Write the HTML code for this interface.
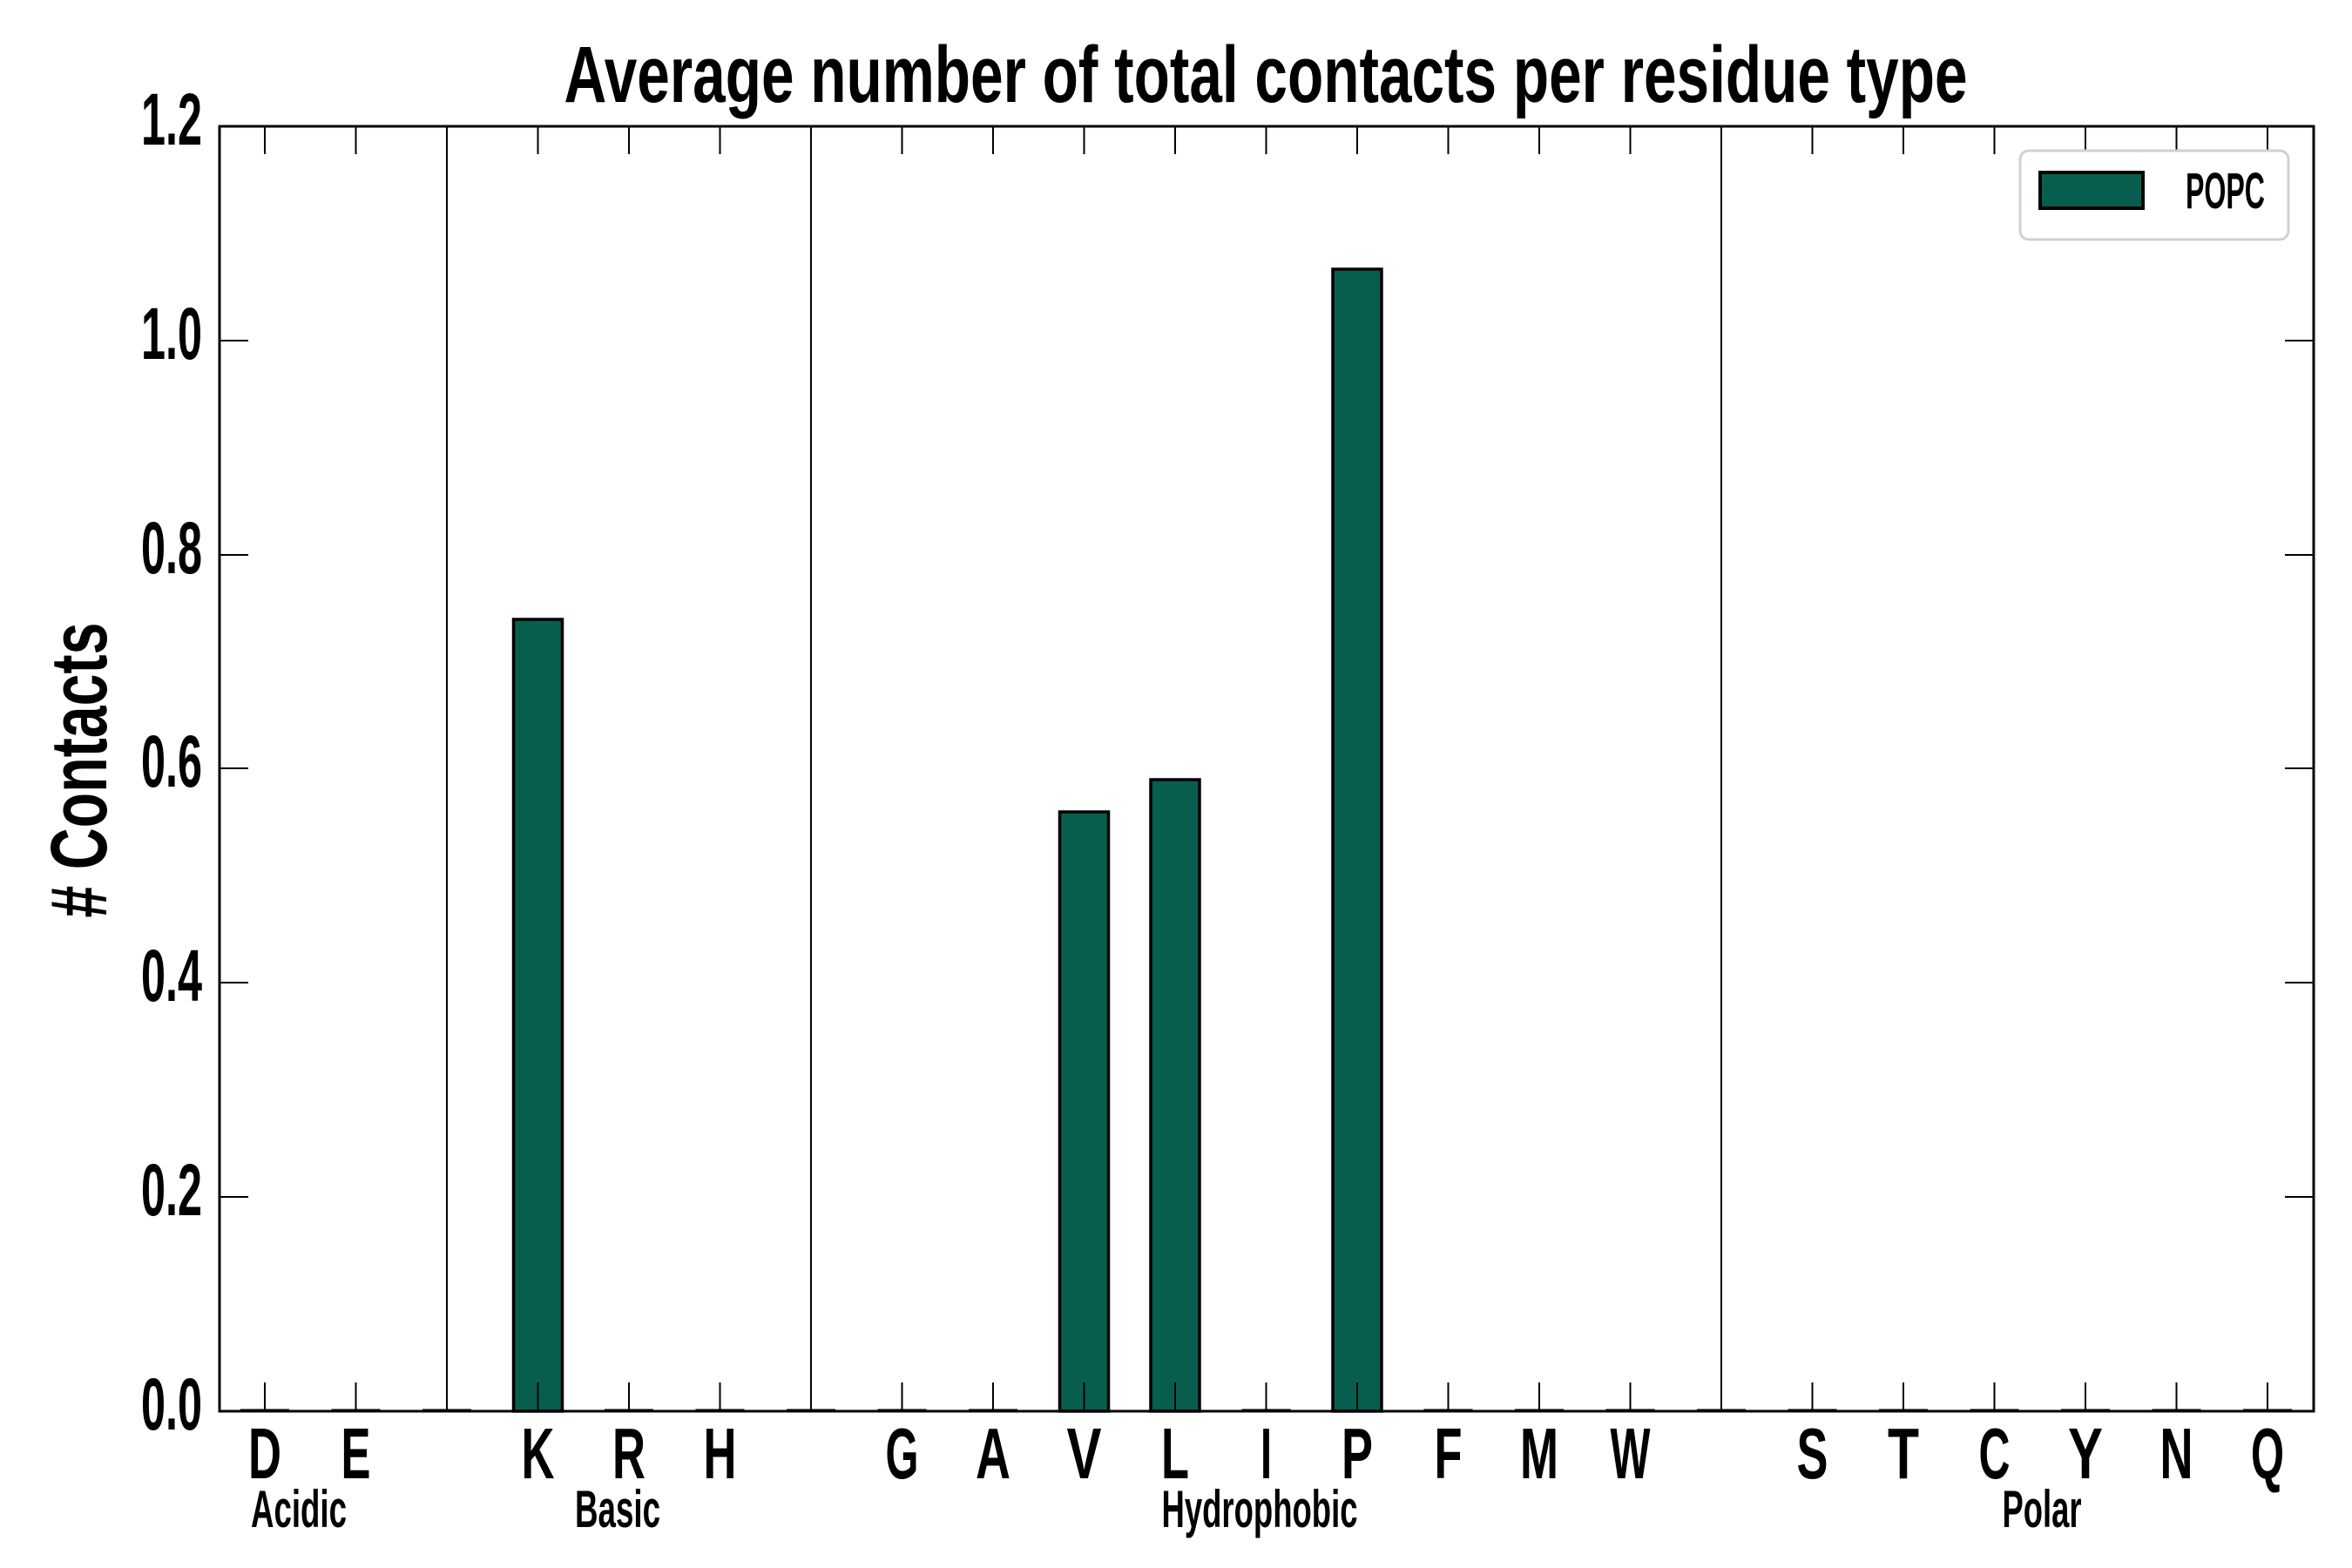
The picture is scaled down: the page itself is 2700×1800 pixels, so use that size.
<!DOCTYPE html>
<html><head><meta charset="utf-8"><style>
html,body{margin:0;padding:0;background:#fff;}
svg{display:block;}
text{font-family:"Liberation Sans Narrow","Liberation Sans",sans-serif;font-weight:bold;fill:#000;}
</style></head><body>
<svg width="2700" height="1800" viewBox="0 0 2700 1800" xmlns="http://www.w3.org/2000/svg">
<rect width="2700" height="1800" fill="#fff"/>
<text x="1453" y="117" font-size="92" text-anchor="middle" textLength="1611" lengthAdjust="spacingAndGlyphs">Average number of total contacts per residue type</text>
<text transform="translate(122,884) rotate(-90)" font-size="92" text-anchor="middle" textLength="339" lengthAdjust="spacingAndGlyphs"># Contacts</text>
<g stroke="#000" stroke-width="2">
<line x1="513" y1="145" x2="513" y2="1620"/>
<line x1="931" y1="145" x2="931" y2="1620"/>
<line x1="1976" y1="145" x2="1976" y2="1620"/>
</g>
<g fill="#075e4f" stroke="#000" stroke-width="3.5">
<rect x="589.5" y="711" width="56" height="909"/>
<rect x="1216.5" y="932" width="56" height="688"/>
<rect x="1321" y="895" width="56" height="725"/>
<rect x="1530" y="309" width="56" height="1311"/>
</g>
<g stroke="#000" stroke-width="3">
<path d="M276 1619h56M380.5 1619h56M485 1619h56M694 1619h56M798.5 1619h56M903 1619h56M1007.5 1619h56M1112 1619h56M1425.5 1619h56M1634.5 1619h56M1739 1619h56M1843.5 1619h56M1948 1619h56M2052.5 1619h56M2157 1619h56M2261.5 1619h56M2366 1619h56M2470.5 1619h56M2575 1619h56"/>
</g>
<g stroke="#000" stroke-width="2">
<path d="M304 1620v-33M408.5 1620v-33M513 1620v-33M617.5 1620v-33M722 1620v-33M826.5 1620v-33M931 1620v-33M1035.5 1620v-33M1140 1620v-33M1244.5 1620v-33M1349 1620v-33M1453.5 1620v-33M1558 1620v-33M1662.5 1620v-33M1767 1620v-33M1871.5 1620v-33M1976 1620v-33M2080.5 1620v-33M2185 1620v-33M2289.5 1620v-33M2394 1620v-33M2498.5 1620v-33M2603 1620v-33"/>
<path d="M304 145v32M408.5 145v32M513 145v32M617.5 145v32M722 145v32M826.5 145v32M931 145v32M1035.5 145v32M1140 145v32M1244.5 145v32M1349 145v32M1453.5 145v32M1558 145v32M1662.5 145v32M1767 145v32M1871.5 145v32M1976 145v32M2080.5 145v32M2185 145v32M2289.5 145v32M2394 145v32M2498.5 145v32M2603 145v32"/>
<path d="M252 1374h33M252 1128h33M252 882h33M252 637h33M252 391h33M2656 1374h-33M2656 1128h-33M2656 882h-33M2656 637h-33M2656 391h-33"/>
</g>
<rect x="252" y="145" width="2404" height="1475" fill="none" stroke="#000" stroke-width="3"/>
<g font-size="84" text-anchor="end">
<text x="232" y="1641" textLength="70" lengthAdjust="spacingAndGlyphs">0.0</text>
<text x="232" y="1395" textLength="70" lengthAdjust="spacingAndGlyphs">0.2</text>
<text x="232" y="1149" textLength="70" lengthAdjust="spacingAndGlyphs">0.4</text>
<text x="232" y="903" textLength="70" lengthAdjust="spacingAndGlyphs">0.6</text>
<text x="232" y="658" textLength="70" lengthAdjust="spacingAndGlyphs">0.8</text>
<text x="232" y="412" textLength="70" lengthAdjust="spacingAndGlyphs">1.0</text>
<text x="232" y="166" textLength="70" lengthAdjust="spacingAndGlyphs">1.2</text>
</g>
<g font-size="83" text-anchor="middle">
<text x="304" y="1697" textLength="38" lengthAdjust="spacingAndGlyphs">D</text>
<text x="408.5" y="1697" textLength="34" lengthAdjust="spacingAndGlyphs">E</text>
<text x="617.5" y="1697" textLength="38" lengthAdjust="spacingAndGlyphs">K</text>
<text x="722" y="1697" textLength="38" lengthAdjust="spacingAndGlyphs">R</text>
<text x="826.5" y="1697" textLength="38" lengthAdjust="spacingAndGlyphs">H</text>
<text x="1035.5" y="1697" textLength="38" lengthAdjust="spacingAndGlyphs">G</text>
<text x="1140" y="1697" textLength="40" lengthAdjust="spacingAndGlyphs">A</text>
<text x="1244.5" y="1697" textLength="40" lengthAdjust="spacingAndGlyphs">V</text>
<text x="1349" y="1697" textLength="32" lengthAdjust="spacingAndGlyphs">L</text>
<text x="1453.5" y="1697" textLength="13" lengthAdjust="spacingAndGlyphs">I</text>
<text x="1558" y="1697" textLength="36" lengthAdjust="spacingAndGlyphs">P</text>
<text x="1662.5" y="1697" textLength="32" lengthAdjust="spacingAndGlyphs">F</text>
<text x="1767" y="1697" textLength="44" lengthAdjust="spacingAndGlyphs">M</text>
<text x="1871.5" y="1697" textLength="46" lengthAdjust="spacingAndGlyphs">W</text>
<text x="2080.5" y="1697" textLength="36" lengthAdjust="spacingAndGlyphs">S</text>
<text x="2185" y="1697" textLength="36" lengthAdjust="spacingAndGlyphs">T</text>
<text x="2289.5" y="1697" textLength="36" lengthAdjust="spacingAndGlyphs">C</text>
<text x="2394" y="1697" textLength="40" lengthAdjust="spacingAndGlyphs">Y</text>
<text x="2498.5" y="1697" textLength="38" lengthAdjust="spacingAndGlyphs">N</text>
<text x="2603" y="1697" textLength="38" lengthAdjust="spacingAndGlyphs">Q</text>
</g>
<g font-size="60" text-anchor="middle">
<text x="343" y="1753" textLength="110" lengthAdjust="spacingAndGlyphs">Acidic</text>
<text x="709" y="1753" textLength="98" lengthAdjust="spacingAndGlyphs">Basic</text>
<text x="1446" y="1753" textLength="225" lengthAdjust="spacingAndGlyphs">Hydrophobic</text>
<text x="2344" y="1753" textLength="91" lengthAdjust="spacingAndGlyphs">Polar</text>
</g>
<rect x="2319" y="173" width="308" height="102" rx="10" fill="#fff" stroke="#d0d0d0" stroke-width="3"/>
<rect x="2342" y="198" width="118" height="41" fill="#075e4f" stroke="#000" stroke-width="4"/>
<text x="2509" y="239" font-size="58" textLength="91" lengthAdjust="spacingAndGlyphs">POPC</text>
</svg>
</body></html>
